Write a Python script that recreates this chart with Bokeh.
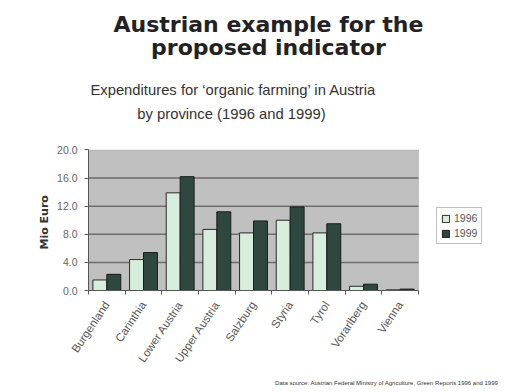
from bokeh.plotting import figure
from bokeh.models import (Range1d, Legend, LegendItem, FixedTicker, PrintfTickFormatter,
                          ColumnDataSource, Title, Label, BoxAnnotation)
from bokeh.transform import dodge
from bokeh.embed import file_html
from bokeh.resources import INLINE

provinces = ["Burgenland", "Carinthia", "Lower Austria", "Upper Austria", "Salzburg",
             "Styria", "Tyrol", "Vorarlberg", "Vienna"]
y1996 = [1.5, 4.4, 13.9, 8.7, 8.2, 10.0, 8.2, 0.6, 0.1]
y1999 = [2.3, 5.4, 16.2, 11.2, 9.9, 11.9, 9.5, 0.9, 0.2]
series = ["1996", "1999"]
yticks = [0, 4, 8, 12, 16, 20]
ymax = 20

n = len(provinces)
xpos = [i + 0.5 for i in range(n)]
src = ColumnDataSource(dict(x=xpos, a=y1996, b=y1999))
grid_src = ColumnDataSource(dict(y=yticks[1:-1], x0=[0] * (len(yticks) - 2),
                                 x1=[n] * (len(yticks) - 2)))

# layout in canvas pixels
W, H = 521, 392
PL, PR, PT, PB = 88, 418, 150, 291       # plot area
FR = 516                                  # frame right edge
pxx = (PR - PL) / n                       # px per category
pxy = (PB - PT) / ymax                    # px per unit
x_end = (FR - PL) / pxx
y_end = PB / pxy

def dx(px):
    return (px - PL) / pxx

def dy(py):
    return (PB - py) / pxy

p = figure(width=W, height=H, x_range=Range1d(0, x_end), y_range=Range1d(0, y_end),
           output_backend="svg", toolbar_location=None, title=None,
           min_border_left=PL, min_border_right=W - FR, min_border_top=0, min_border_bottom=H - PB)
p.background_fill_color = "white"
p.border_fill_color = "white"
p.outline_line_color = None
p.xgrid.visible = False
p.ygrid.visible = False

p.add_layout(BoxAnnotation(left=0, right=n, bottom=0, top=ymax, fill_color="#c0c0c0",
                           fill_alpha=1, line_color="#808080", line_width=1, level="underlay"))
p.segment(x0="x0", x1="x1", y0="y", y1="y", source=grid_src, line_color="#6e6e6e",
          line_width=1.5)

r1 = p.vbar(x=dodge("x", -0.19), top="a", width=0.38, source=src,
            fill_color="#d6eedb", line_color="#2a2a2a", line_width=1)
r2 = p.vbar(x=dodge("x", 0.19), top="b", width=0.38, source=src,
            fill_color="#2e4840", line_color="#1a1a1a", line_width=1)

p.yaxis.bounds = (0, ymax)
p.yaxis.ticker = FixedTicker(ticks=yticks)
p.yaxis.formatter = PrintfTickFormatter(format="%.1f")
p.yaxis.minor_tick_line_color = None
p.yaxis.major_label_text_font_size = "10.5px"
p.yaxis.major_label_text_color = "#666666"
p.yaxis.axis_line_color = "#555555"
p.yaxis.major_tick_line_color = "#555555"
p.yaxis.major_tick_out = 4
p.yaxis.major_tick_in = 0
p.yaxis.major_label_standoff = 7

p.add_layout(Title(text="Mio Euro", align="left", offset=PB - 250, text_font="DejaVu Sans",
                   text_font_size="11px", text_font_style="bold", text_color="#333333",
                   standoff=7), "left")

p.xaxis.bounds = (0, n)
p.xaxis.ticker = FixedTicker(ticks=xpos, minor_ticks=list(range(n + 1)))
p.xaxis.major_label_overrides = {x: name for x, name in zip(xpos, provinces)}
p.xaxis.major_label_orientation = 0.98
p.xaxis.major_label_text_font_size = "11.5px"
p.xaxis.major_label_text_color = "#555555"
p.xaxis.axis_line_color = "#555555"
p.xaxis.major_tick_line_color = None
p.xaxis.minor_tick_line_color = "#555555"
p.xaxis.minor_tick_out = 4
p.xaxis.minor_tick_in = 0
p.xaxis.major_label_standoff = 6

legend = Legend(items=[LegendItem(label=series[0], renderers=[r1]),
                       LegendItem(label=series[1], renderers=[r2])],
                location=(436 - PL, PB - 245), label_text_font_size="10.5px",
                label_text_color="#555555", glyph_width=9, glyph_height=9,
                label_height=12, spacing=3, padding=4, margin=0,
                border_line_color="#808080", border_line_width=1.5,
                background_fill_color="white", label_standoff=4)
p.add_layout(legend)

def lab(text, cx, cy, size, bold=False, color="#222222", font="DejaVu Sans"):
    p.add_layout(Label(x=dx(cx), y=dy(cy), text=text, text_font=font, text_font_size=size,
                       text_font_style="bold" if bold else "normal", text_color=color,
                       text_align="center", text_baseline="middle"))

lab("Austrian example for the", 268, 24, "22px", bold=True)
lab("proposed indicator", 268, 47, "22px", bold=True)
lab("Expenditures for \u2018organic farming\u2019 in Austria", 233, 90, "14.8px",
    color="#333333", font="Liberation Sans")
lab("by province (1996 and 1999)", 231, 114, "14.8px", color="#333333", font="Liberation Sans")

p.add_layout(Title(text="Data source: Austrian Federal Ministry of Agriculture, Green Reports 1996 and 1999",
                   align="right", offset=FR - 498, text_font="Liberation Sans", text_font_size="6px",
                   text_font_style="normal", text_color="#333333", standoff=14), "below")

open("out.html", "w").write(file_html(p, INLINE))
